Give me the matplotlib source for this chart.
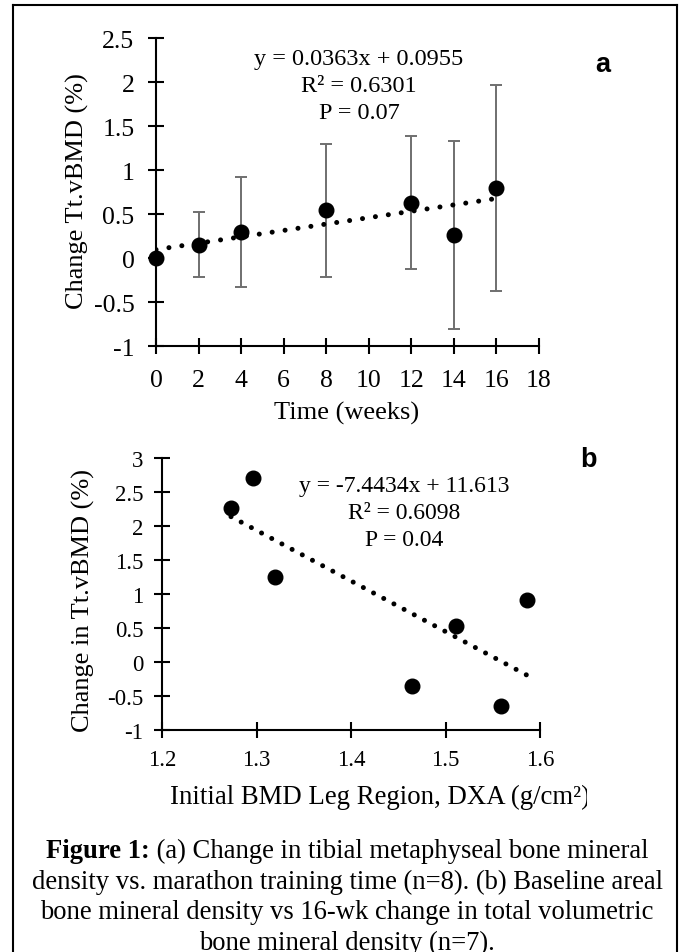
import matplotlib
matplotlib.use("Agg")
import matplotlib.pyplot as plt
from matplotlib.lines import Line2D
from matplotlib.transforms import Bbox
import numpy as np

# ---------------- data ----------------
# Panel a
weeks = [0, 2, 4, 8, 12, 14, 16]
change_a = [0.0, 0.15, 0.30, 0.54, 0.63, 0.26, 0.80]
err_a = [0.0, 0.37, 0.625, 0.755, 0.755, 1.07, 1.17]
slope_a, intercept_a = 0.0363, 0.0955
xticks_a = [0, 2, 4, 6, 8, 10, 12, 14, 16, 18]
yticks_a = [-1, -0.5, 0, 0.5, 1, 1.5, 2, 2.5]
eq_a = ["y = 0.0363x + 0.0955", "R² = 0.6301", "P = 0.07"]

# Panel b
bmd_b = [1.273, 1.296, 1.320, 1.465, 1.511, 1.559, 1.586]
change_b = [2.26, 2.70, 1.25, -0.35, 0.53, -0.64, 0.91]
slope_b, intercept_b = -7.4434, 11.613
xticks_b = [1.2, 1.3, 1.4, 1.5, 1.6]
yticks_b = [-1, -0.5, 0, 0.5, 1, 1.5, 2, 2.5, 3]
eq_b = ["y = -7.4434x + 11.613", "R² = 0.6098", "P = 0.04"]

caption_bold = "Figure 1:"
caption_lines = [
    " (a) Change in tibial metaphyseal bone mineral",
    "density vs. marathon training time (n=8). (b) Baseline areal",
    "bone mineral density vs 16-wk change in total volumetric",
    "bone mineral density (n=7).",
]

# ---------------- style ----------------
plt.rcParams['font.family'] = ['Liberation Serif', 'DejaVu Serif']
plt.rcParams['axes.unicode_minus'] = False

W, H = 681, 953
fig = plt.figure(figsize=(W / 100, H / 100), dpi=100)


def fx(x):
    return x / W


def fy(y):
    return 1 - y / H


def fmt(v):
    return f"{v:g}"


def style_axes(ax, tick_size, xpad, ypad):
    for s in ['top', 'right']:
        ax.spines[s].set_visible(False)
    for s in ['left', 'bottom']:
        ax.spines[s].set_linewidth(1.5)
        ax.spines[s].set_color('black')
    ax.tick_params(direction='inout', length=11, width=1.5, colors='black',
                   labelsize=tick_size)
    ax.tick_params(axis='x', pad=xpad)
    ax.tick_params(axis='y', pad=ypad)
    ax.patch.set_alpha(0)


# ---------------- panel a ----------------
ax1 = fig.add_axes([fx(156), fy(347), (539 - 156) / W, (347 - 39) / H])
ax1.set_xlim(0, 18)
ax1.set_ylim(-1, 2.5)
ax1.set_xticks(xticks_a)
ax1.set_xticklabels([fmt(v) for v in xticks_a])
ax1.set_yticks(yticks_a)
ax1.set_yticklabels([fmt(v) for v in yticks_a])
style_axes(ax1, 18.5, 11, 10)

ax1.errorbar(weeks, change_a, yerr=err_a, fmt='none', ecolor='#6f6f6f',
             elinewidth=1.4, capsize=4.3, capthick=1.4, zorder=3, clip_on=False)
ax1.plot(weeks, change_a, 'o', color='black', markersize=10.5, zorder=4,
         clip_on=False)
xt = np.linspace(min(weeks), max(weeks), 200)
ax1.plot(xt, slope_a * xt + intercept_a, color='black', lw=3.6,
         linestyle=(0, (0.01, 2.6)), dash_capstyle='round', zorder=5)

fig.text(fx(347), fy(420), "Time (weeks)", fontsize=19, ha='center',
         va='baseline')
fig.text(fx(77), fy(191), "Change Tt.vBMD (%)", fontsize=19, rotation=90,
         ha='center', va='center')
for i, t in enumerate(eq_a):
    fig.text(fx(359), fy(65 + 27 * i), t, fontsize=17.5, ha='center',
             va='baseline')
fig.text(fx(603), fy(72), "a", fontsize=19.5, fontweight='bold',
         family=['Liberation Sans', 'DejaVu Sans'], ha='center', va='baseline')

# ---------------- panel b ----------------
ax2 = fig.add_axes([fx(162), fy(731), (540 - 162) / W, (731 - 459) / H])
ax2.set_xlim(1.2, 1.6)
ax2.set_ylim(-1, 3)
ax2.set_xticks(xticks_b)
ax2.set_xticklabels([fmt(v) for v in xticks_b])
ax2.set_yticks(yticks_b)
ax2.set_yticklabels([fmt(v) for v in yticks_b])
style_axes(ax2, 16.5, 8, 8)

ax2.plot(bmd_b, change_b, 'o', color='black', markersize=10.5, zorder=4,
         clip_on=False)
xb = np.linspace(min(bmd_b), max(bmd_b), 200)
ax2.plot(xb, slope_b * xb + intercept_b, color='black', lw=3.6,
         linestyle=(0, (0.01, 2.3)), dash_capstyle='round', zorder=5)

xl = fig.text(fx(170), fy(804), "Initial BMD Leg Region, DXA (g/cm²)",
              fontsize=19.3, ha='left', va='baseline')
xl.set_clip_box(Bbox([[0, 0], [587, H]]))
xl.set_clip_on(True)
fig.text(fx(83), fy(600), "Change in Tt.vBMD (%)", fontsize=19, rotation=90,
         ha='center', va='center')
for i, t in enumerate(eq_b):
    fig.text(fx(404), fy(492 + 27 * i), t, fontsize=17, ha='center',
             va='baseline')
fig.text(fx(588), fy(467), "b", fontsize=19.5, fontweight='bold',
         family=['Liberation Sans', 'DejaVu Sans'], ha='center', va='baseline')

# ---------------- caption ----------------
cap_size = 19.2
cx = 347
base = [858, 889, 919, 950]
renderer = fig.canvas.get_renderer()
tb = fig.text(0, 0, caption_bold, fontsize=cap_size, fontweight='bold',
              va='baseline', ha='left')
tr = fig.text(0, 0, caption_lines[0], fontsize=cap_size, va='baseline',
              ha='left')
wb = tb.get_window_extent(renderer).width
wr = tr.get_window_extent(renderer).width
x0 = cx - (wb + wr) / 2
tb.set_position((fx(x0), fy(base[0])))
tr.set_position((fx(x0 + wb), fy(base[0])))
for i in range(1, 4):
    fig.text(fx(cx), fy(base[i]), caption_lines[i], fontsize=cap_size,
             ha='center', va='baseline')

# ---------------- frame ----------------
fl = 1.5
fig.add_artist(Line2D([fx(13), fx(13)], [fy(6), fy(960)], color='black',
                      lw=fl, transform=fig.transFigure))
fig.add_artist(Line2D([fx(13), fx(677)], [fy(6), fy(6)], color='black',
                      lw=fl, transform=fig.transFigure))
fig.add_artist(Line2D([fx(677), fx(677)], [fy(6), fy(960)], color='black',
                      lw=fl, transform=fig.transFigure))

fig.savefig("out.png", dpi=100)
